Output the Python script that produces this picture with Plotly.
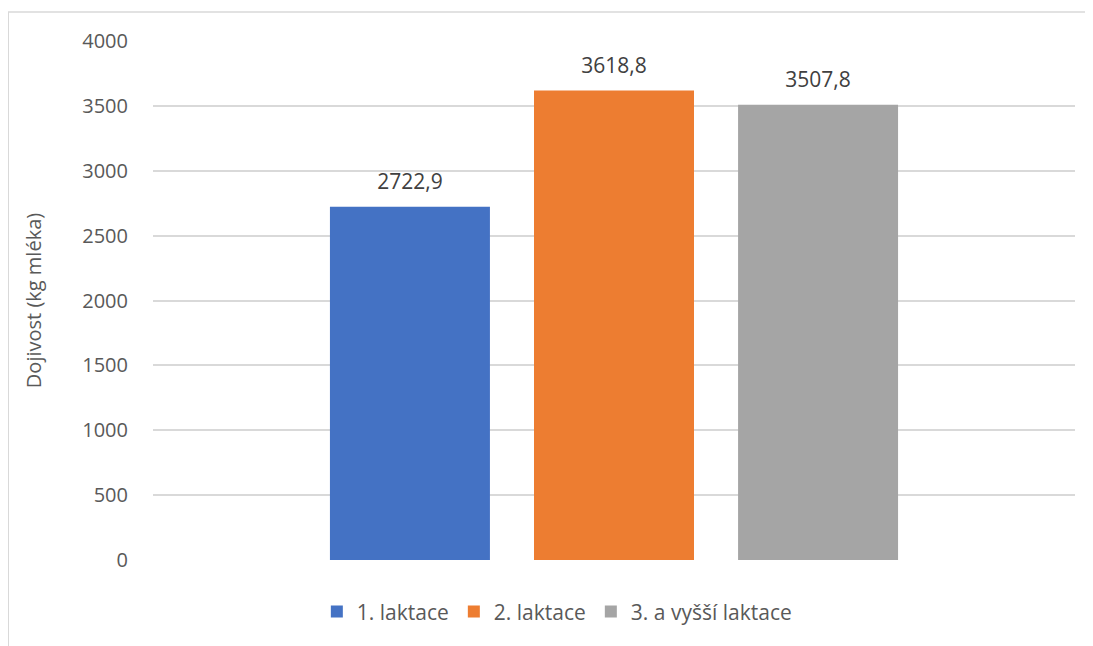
import plotly.graph_objects as go

series_names = ["1. laktace", "2. laktace", "3. a vyšší laktace"]
values = [2722.9, 3618.8, 3507.8]
colors = ["#4472C4", "#ED7D31", "#A5A5A5"]
category = [""]
y_title = "Dojivost (kg mléka)"
y_ticks = [0, 500, 1000, 1500, 2000, 2500, 3000, 3500, 4000]

font_family = "Open Sans, Liberation Sans, sans-serif"

fig = go.Figure()
for i, (name, val, col) in enumerate(zip(series_names, values, colors)):
    fig.add_trace(go.Bar(
        x=category, y=[val], name=name, offsetgroup=str(i),
        marker=dict(color=col, line=dict(width=0)),
    ))
for i, (name, val, col) in enumerate(zip(series_names, values, colors)):
    fig.add_trace(go.Scatter(
        x=category, y=[val], offsetgroup=str(i), showlegend=False,
        mode="markers+text", marker=dict(size=18, color="rgba(0,0,0,0)"),
        text=[f"{val:.1f}".replace(".", ",")], textposition="top center",
        textfont=dict(size=21, color="#404040", family=font_family),
        cliponaxis=False, hoverinfo="skip",
    ))

fig.update_layout(
    width=1085, height=638,
    margin=dict(l=145, r=18, t=33, b=86),
    paper_bgcolor="white", plot_bgcolor="white",
    barmode="group", bargap=0.336, bargroupgap=0.216,
    scattermode="group", scattergap=0.336,
    font=dict(family=font_family, color="#595959", size=20),
    showlegend=True,
    legend=dict(orientation="h", x=0.438, xanchor="center", y=-0.1, yanchor="middle",
                font=dict(size=21, color="#595959"), traceorder="normal",
                itemwidth=30),
    xaxis=dict(showticklabels=False, showgrid=False, zeroline=False, showline=False, ticks=""),
    yaxis=dict(range=[0, 4000], tickvals=y_ticks, showgrid=True, gridcolor="#D9D9D9", gridwidth=1.5,
               zeroline=False, showline=False, ticks="outside", ticklen=20, tickcolor="white",
               tickfont=dict(size=20, color="#595959"),
               title=dict(text=y_title, font=dict(size=20, color="#595959"), standoff=35)),
    shapes=[dict(type="rect", xref="paper", yref="paper", x0=-0.157, x1=1.2, y0=-0.5, y1=1.0559,
                 line=dict(color="#D9D9D9", width=1.5), layer="below")],
)

fig.write_html("out.html")
